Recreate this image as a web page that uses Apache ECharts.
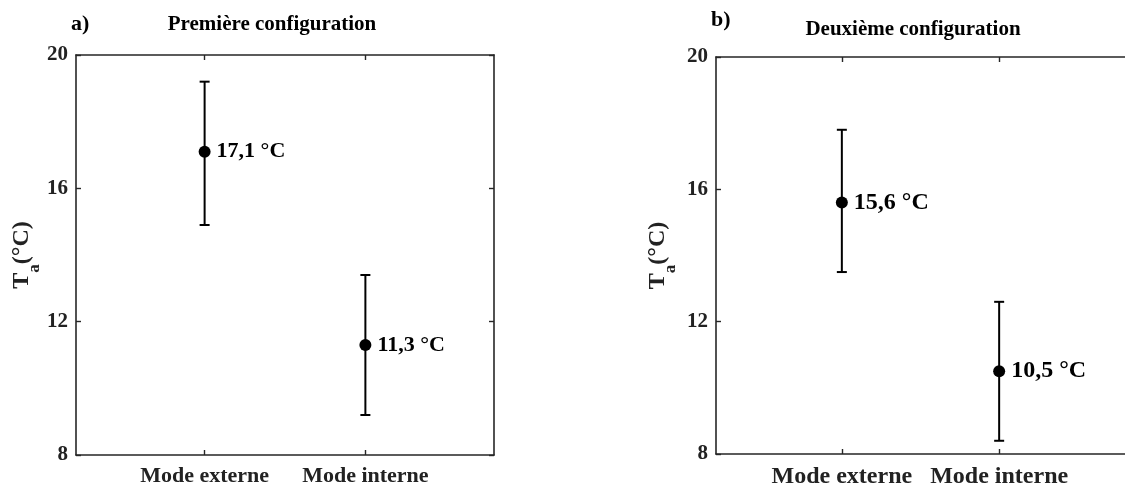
<!DOCTYPE html>
<html>
<head>
<meta charset="utf-8">
<script src="https://cdn.jsdelivr.net/npm/echarts@6/dist/echarts.min.js"></script>
<style>
html,body{margin:0;padding:0;background:#fff;}
#chart{width:1125px;height:489px;}
</style>
</head>
<body>
<div id="chart"></div>
<script>
// ---- data ----
const categories = ['Mode externe', 'Mode interne'];
const xPositions = [1, 2];
const yTicks = [8, 12, 16, 20];
const panelTitles = ['Première configuration', 'Deuxième configuration'];
const panelLetters = ['a)', 'b)'];
const meanA = [17.1, 11.3];
const lowA = [14.9, 9.2];
const highA = [19.2, 13.4];
const meanB = [15.6, 10.5];
const lowB = [13.5, 8.4];
const highB = [17.8, 12.6];

const FONT = '"Liberation Serif", "Times New Roman", serif';
const AX = '#262626';

const fmt = v => v.toFixed(1).replace('.', ',') + ' °C';

function yAxes(grid, labelSize, gap, showRight) {
  return [
    {
      gridIndex: grid, type: 'value', position: 'left',
      min: yTicks[0], max: yTicks[yTicks.length - 1], interval: 4,
      axisLine: { show: true, lineStyle: { color: AX, width: 1.6 } },
      axisTick: { show: true, inside: true, length: 5, lineStyle: { color: AX, width: 1.4 } },
      splitLine: { show: false },
      axisLabel: { fontSize: labelSize, fontWeight: 'bold', fontFamily: FONT, color: '#222', margin: 8 },
      name: '{t|T}{s|a}{t|(°C)}',
      nameLocation: 'middle', nameRotate: 90, nameGap: gap,
      nameTextStyle: {
        rich: {
          t: { fontSize: 24, fontWeight: 'bold', fontFamily: FONT, color: '#222' },
          s: { fontSize: 17, fontWeight: 'bold', fontFamily: FONT, color: '#222', padding: [26, 0, 0, 0] }
        }
      }
    },
    {
      gridIndex: grid, type: 'value', position: 'right',
      min: yTicks[0], max: yTicks[yTicks.length - 1], interval: 4,
      axisLine: { show: showRight, lineStyle: { color: AX, width: 1.6 } },
      axisTick: { show: showRight, inside: true, length: 5, lineStyle: { color: AX, width: 1.4 } },
      splitLine: { show: false },
      axisLabel: { show: false }
    }
  ];
}

function xAxes(grid, labelSize, margin) {
  return [
    {
      gridIndex: grid, type: 'value', position: 'bottom', min: 0.2, max: 2.8,
      axisLine: { show: true, onZero: false, lineStyle: { color: AX, width: 1.6 } },
      axisTick: { show: true, inside: true, length: 5, customValues: xPositions, lineStyle: { color: AX, width: 1.4 } },
      splitLine: { show: false },
      axisLabel: {
        customValues: xPositions,
        formatter: v => categories[Math.round(v) - 1],
        fontSize: labelSize, fontWeight: 'bold', fontFamily: FONT, color: '#222', margin: margin
      }
    },
    {
      gridIndex: grid, type: 'value', position: 'top', min: 0.2, max: 2.8,
      axisLine: { show: true, onZero: false, lineStyle: { color: AX, width: 1.6 } },
      axisTick: { show: true, inside: true, length: 5, customValues: xPositions, lineStyle: { color: AX, width: 1.4 } },
      splitLine: { show: false },
      axisLabel: { show: false }
    }
  ];
}

function errorSeries(xi, yi, lows, highs) {
  return {
    type: 'custom', xAxisIndex: xi, yAxisIndex: yi,
    data: xPositions.map((x, i) => [x, lows[i], highs[i]]),
    encode: { x: 0, y: [1, 2] },
    silent: true,
    renderItem: (params, api) => {
      const x = api.value(0);
      const lo = api.coord([x, api.value(1)]);
      const hi = api.coord([x, api.value(2)]);
      const h = 5;
      const st = { stroke: '#000', lineWidth: 2 };
      return {
        type: 'group',
        children: [
          { type: 'line', shape: { x1: lo[0], y1: lo[1], x2: hi[0], y2: hi[1] }, style: st },
          { type: 'line', shape: { x1: lo[0] - h, y1: lo[1], x2: lo[0] + h, y2: lo[1] }, style: st },
          { type: 'line', shape: { x1: hi[0] - h, y1: hi[1], x2: hi[0] + h, y2: hi[1] }, style: st }
        ]
      };
    }
  };
}

function pointSeries(xi, yi, means, labelSize) {
  return {
    type: 'scatter', xAxisIndex: xi, yAxisIndex: yi,
    data: xPositions.map((x, i) => [x, means[i]]),
    symbol: 'circle', symbolSize: 12,
    itemStyle: { color: '#000', opacity: 1 },
    z: 5,
    label: {
      show: true, position: 'right', distance: 6,
      formatter: p => fmt(p.value[1]),
      fontSize: labelSize, fontWeight: 'bold', fontFamily: FONT, color: '#000'
    }
  };
}

const chart = echarts.init(document.getElementById('chart'), null, { renderer: 'canvas' });
chart.setOption({
  backgroundColor: '#fff',
  animation: false,
  grid: [
    { left: 76, top: 55, width: 418, height: 400 },
    { left: 716, top: 57, width: 418, height: 400 }
  ],
  xAxis: [...xAxes(0, 22, 10), ...xAxes(1, 24, 11)],
  yAxis: [...yAxes(0, 21, 33, true), ...yAxes(1, 21, 37, false)],
  series: [
    errorSeries(0, 0, lowA, highA),
    pointSeries(0, 0, meanA, 22),
    errorSeries(2, 2, lowB, highB),
    pointSeries(2, 2, meanB, 24)
  ],
  graphic: [
    { type: 'text', left: 71, top: 13, style: { text: panelLetters[0], fontSize: 22, fontWeight: 'bold', fontFamily: FONT, fill: '#000' } },
    { type: 'text', x: 272, y: 25, style: { text: panelTitles[0], align: 'center', verticalAlign: 'middle', fontSize: 21, fontWeight: 'bold', fontFamily: FONT, fill: '#000' } },
    { type: 'text', left: 711, top: 9, style: { text: panelLetters[1], fontSize: 22, fontWeight: 'bold', fontFamily: FONT, fill: '#000' } },
    { type: 'text', x: 913, y: 30, style: { text: panelTitles[1], align: 'center', verticalAlign: 'middle', fontSize: 21, fontWeight: 'bold', fontFamily: FONT, fill: '#000' } }
  ]
});
</script>
</body>
</html>
